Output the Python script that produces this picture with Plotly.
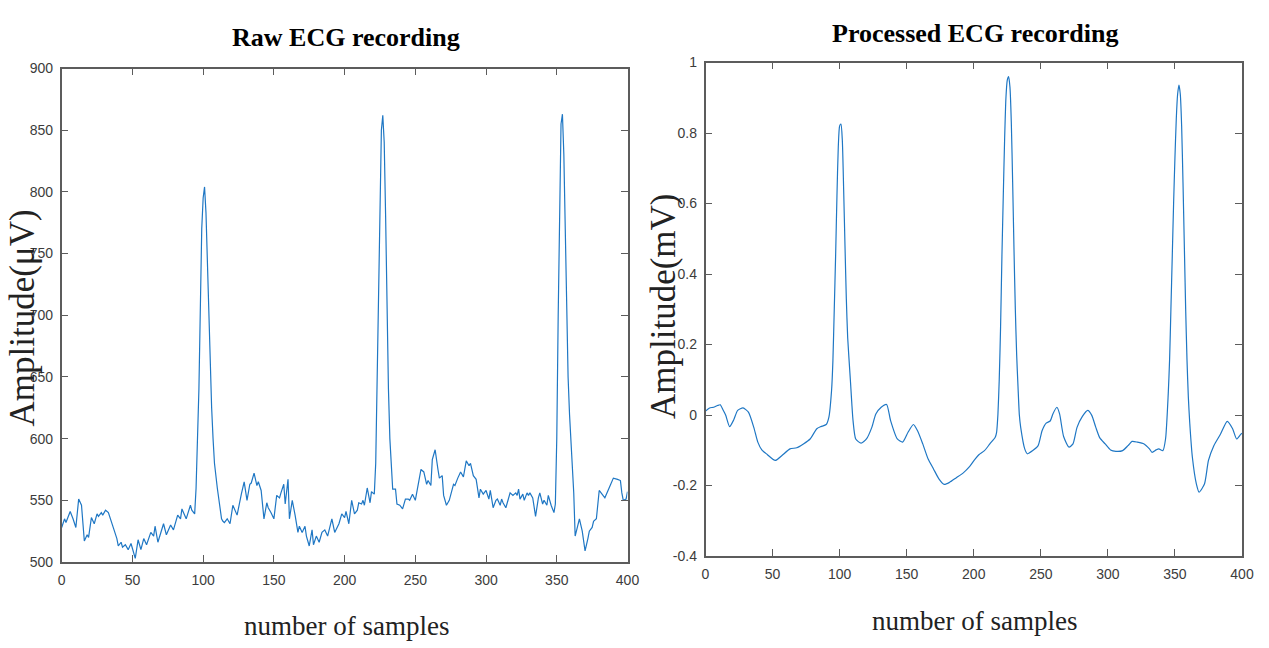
import plotly.graph_objects as go

# ---- Raw ECG recording (microvolts) ----
raw_samples = [
    0, 2, 3, 6, 8, 10, 12, 14, 16, 18, 19, 21, 23, 25, 26, 28, 29, 31, 33, 35,
    37, 39, 40, 42, 43, 45, 47, 49, 52, 54, 56, 58, 60, 63, 65, 66, 68, 72, 74, 77,
    79, 82, 84, 85, 88, 91, 92, 94, 95, 97, 98, 99, 100, 101, 102, 103, 104, 105, 106, 107,
    108, 110, 112, 113, 114, 115, 117, 119, 121, 123, 124, 127, 129, 131, 133, 134, 136, 138, 139, 141,
    143, 145, 146, 148, 150, 152, 154, 155, 157, 158, 160, 161, 163, 165, 167, 168, 170, 172, 173, 175,
    177, 178, 180, 182, 184, 186, 188, 191, 193, 196, 198, 200, 201, 203, 205, 207, 209, 210, 212, 213,
    214, 216, 217, 218, 219, 221, 222, 223, 224, 225, 226, 227, 228, 229, 230, 231, 232, 233, 234, 236,
    237, 239, 241, 243, 245, 246, 248, 250, 252, 254, 256, 258, 259, 261, 262, 264, 266, 267, 269, 270,
    272, 274, 277, 278, 280, 282, 284, 286, 288, 289, 291, 293, 295, 296, 298, 300, 302, 303, 305, 307,
    308, 310, 311, 312, 314, 316, 317, 319, 321, 322, 323, 324, 326, 327, 329, 330, 331, 333, 334, 335,
    337, 338, 340, 341, 343, 344, 346, 348, 349, 350, 351, 352, 353, 354, 355, 356, 357, 358, 359, 360,
    362, 363, 365, 366, 368, 370, 372, 373, 375, 376, 378, 379, 380, 382, 384, 387, 388, 390, 393, 395,
    396, 397, 399, 400,
]
raw_uv = [
    528, 535, 532, 541, 535, 528, 551, 546, 517, 522, 520, 536, 531, 539, 537, 540, 538, 542, 540, 532,
    526, 519, 513, 516, 512, 514, 510, 515, 503, 518, 510, 519, 514, 524, 521, 529, 516, 531, 522, 530,
    526, 538, 535, 543, 535, 546, 542, 539, 560, 640, 718, 770, 795, 804, 783, 740, 700, 660, 625, 600,
    580, 560, 545, 535, 533, 532, 535, 531, 546, 541, 538, 555, 565, 550, 563, 564, 572, 562, 565, 558,
    535, 548, 544, 540, 535, 554, 552, 556, 563, 547, 567, 535, 550, 538, 524, 529, 524, 529, 521, 513,
    526, 514, 521, 516, 524, 526, 521, 535, 524, 531, 539, 536, 541, 531, 550, 539, 542, 548, 547, 550,
    546, 560, 555, 548, 557, 555, 580, 650, 740, 810, 850, 862, 840, 780, 700, 640, 600, 575, 559, 559,
    547, 546, 543, 551, 551, 550, 555, 550, 564, 575, 573, 563, 566, 562, 583, 591, 575, 568, 570, 554,
    546, 550, 563, 562, 568, 573, 569, 582, 578, 580, 570, 567, 552, 559, 555, 558, 551, 558, 544, 550,
    551, 546, 551, 548, 544, 552, 556, 554, 556, 554, 559, 551, 555, 550, 556, 554, 556, 552, 546, 537,
    552, 556, 547, 550, 546, 554, 546, 540, 547, 600, 700, 800, 855, 863, 830, 770, 700, 650, 620, 600,
    556, 521, 531, 535, 525, 509, 519, 525, 528, 533, 535, 546, 558, 555, 552, 560, 563, 568, 567, 566,
    556, 550, 551, 557,
]

# ---- Processed ECG recording (millivolts) ----
proc_samples = [
    0, 3, 6, 9, 11, 13, 15, 18, 21, 24, 28, 32, 36, 39, 42, 46, 52, 57, 63, 68,
    73, 78, 83, 86, 90, 92, 94, 95, 96, 97, 98, 99, 100, 101, 102, 103, 104, 105, 106, 108,
    110, 112, 116, 120, 124, 127, 131, 135, 138, 143, 147, 151, 155, 158, 162, 166, 170, 174, 178, 182,
    187, 192, 197, 201, 204, 208, 212, 216, 217, 218, 219, 220, 221, 222, 223, 224, 225, 226, 227, 228,
    229, 230, 231, 232, 233, 234, 235, 238, 240, 244, 248, 251, 254, 257, 259, 262, 264, 267, 271, 274,
    277, 281, 285, 288, 291, 294, 298, 302, 306, 311, 315, 318, 322, 327, 331, 333, 336, 338, 341, 343,
    345, 346, 347, 348, 349, 350, 351, 352, 353, 354, 355, 356, 357, 358, 359, 360, 361, 363, 366, 368,
    372, 375, 379, 384, 389, 393, 396, 399, 400,
]
proc_mv = [
    0.011, 0.020, 0.022, 0.027, 0.029, 0.015, 0.000, -0.033, -0.014, 0.013, 0.020, 0.008, -0.035, -0.077, -0.099, -0.112, -0.129, -0.115, -0.096, -0.093,
    -0.082, -0.068, -0.039, -0.033, -0.027, -0.006, 0.070, 0.155, 0.300, 0.450, 0.620, 0.760, 0.820, 0.825, 0.780, 0.640, 0.480, 0.330, 0.220, 0.100,
    -0.016, -0.068, -0.080, -0.068, -0.035, 0.003, 0.022, 0.030, -0.016, -0.068, -0.077, -0.049, -0.027, -0.044, -0.082, -0.125, -0.153, -0.181, -0.197, -0.191,
    -0.178, -0.165, -0.146, -0.125, -0.112, -0.101, -0.082, -0.063, -0.050, 0.000, 0.100, 0.250, 0.450, 0.620, 0.780, 0.900, 0.950, 0.960, 0.930, 0.830,
    0.660, 0.470, 0.300, 0.170, 0.080, 0.000, -0.035, -0.096, -0.110, -0.101, -0.087, -0.044, -0.023, -0.017, 0.003, 0.022, 0.003, -0.061, -0.091, -0.082,
    -0.035, -0.004, 0.013, -0.001, -0.035, -0.065, -0.082, -0.099, -0.103, -0.101, -0.087, -0.075, -0.077, -0.082, -0.096, -0.106, -0.099, -0.096, -0.101, -0.068,
    0.060, 0.155, 0.300, 0.450, 0.600, 0.730, 0.840, 0.910, 0.936, 0.910, 0.820, 0.660, 0.480, 0.300, 0.155, 0.050, -0.020, -0.120, -0.196, -0.219,
    -0.196, -0.129, -0.087, -0.054, -0.018, -0.039, -0.068, -0.055, -0.052,
]

# ---- Axis ticks ----
x_ticks = [0, 50, 100, 150, 200, 250, 300, 350, 400]
raw_y_ticks = [500, 550, 600, 650, 700, 750, 800, 850, 900]
proc_y_ticks = [-0.4, -0.2, 0, 0.2, 0.4, 0.6, 0.8, 1]
proc_y_labels = ["-0.4", "-0.2", "0", "0.2", "0.4", "0.6", "0.8", "1"]

W, H = 1269, 648
LINE_BLUE = "#1f77c4"
AXIS_GRAY = "#5c5c5c"
TICK_FONT = dict(family="Liberation Sans Narrow, Arial Narrow, Liberation Sans, sans-serif",
                 size=14, color="#3c3c3c")
SERIF = "Liberation Serif, Times New Roman, serif"

fig = go.Figure()
fig.add_trace(go.Scatter(x=raw_samples, y=raw_uv, mode="lines",
                         line=dict(color=LINE_BLUE, width=1.2),
                         xaxis="x", yaxis="y", showlegend=False))
fig.add_trace(go.Scatter(x=proc_samples, y=proc_mv, mode="lines",
                         line=dict(color=LINE_BLUE, width=1.2, shape="spline", smoothing=0.6),
                         xaxis="x2", yaxis="y2", showlegend=False))

axis_common = dict(showline=True, linecolor=AXIS_GRAY, linewidth=1.5, mirror="ticks",
                   ticks="inside", ticklen=7, tickwidth=1.2, tickcolor=AXIS_GRAY,
                   showgrid=False, zeroline=False, tickfont=TICK_FONT, ticklabelstandoff=4,
                   automargin=False)


def px(x):
    return x / W


def py(y):
    return 1 - y / H


fig.update_layout(
    width=W, height=H,
    margin=dict(l=0, r=0, t=0, b=0, autoexpand=False),
    paper_bgcolor="white", plot_bgcolor="white",
    xaxis=dict(domain=[px(61.7), px(627.5)], range=[0, 400], tickvals=x_ticks,
               anchor="y", **axis_common),
    yaxis=dict(domain=[py(562), py(68.5)], range=[500, 900], tickvals=raw_y_ticks,
               anchor="x", **axis_common),
    xaxis2=dict(domain=[px(705.5), px(1242)], range=[0, 400], tickvals=x_ticks,
                anchor="y2", **axis_common),
    yaxis2=dict(domain=[py(556), py(62.5)], range=[-0.4, 1], tickvals=proc_y_ticks,
                ticktext=proc_y_labels, anchor="x2", **axis_common),
)

annotations = [
    dict(text="Raw ECG recording", x=px(345.5), y=py(37), xanchor="center",
         font=dict(family=SERIF, size=26, color="black", weight="bold")),
    dict(text="Processed ECG recording", x=px(975), y=py(33), xanchor="center",
         font=dict(family=SERIF, size=26, color="black", weight="bold")),
    dict(text="Amplitude(μV)", x=0, y=py(318), textangle=-90, xanchor="left",
         font=dict(family=SERIF, size=35, color="#222222")),
    dict(text="Amplitude(mV)", x=px(663), y=py(306), textangle=-90, xanchor="center",
         font=dict(family=SERIF, size=35, color="#222222")),
    dict(text="number of samples", x=px(346), y=py(626), xanchor="center",
         font=dict(family=SERIF, size=27, color="#222222")),
    dict(text="number of samples", x=px(974), y=py(621), xanchor="center",
         font=dict(family=SERIF, size=27, color="#222222")),
]
for a in annotations:
    fig.add_annotation(xref="paper", yref="paper", yanchor="middle",
                       showarrow=False, **a)

fig.write_html("out.html")
